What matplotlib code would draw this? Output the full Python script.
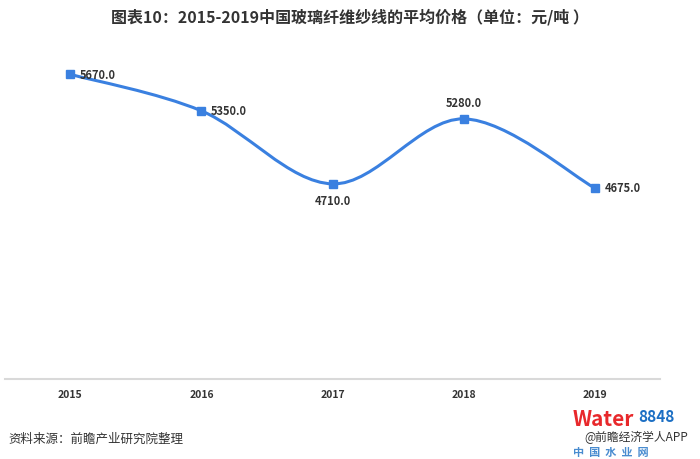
import matplotlib.pyplot as plt
from matplotlib.path import Path
from matplotlib.patches import PathPatch

plt.rcParams['font.family'] = ['Noto Sans CJK SC', 'DejaVu Sans']

# data
years = ['2015', '2016', '2017', '2018', '2019']
prices = [5670.0, 5350.0, 4710.0, 5280.0, 4675.0]
label_pos = ['right', 'right', 'below', 'above', 'right']

title = '图表10：2015-2019中国玻璃纤维纱线的平均价格（单位：元/吨 ）'
source = '资料来源：前瞻产业研究院整理'

blue = '#3a80e0'
text_col = '#333333'

fig = plt.figure(figsize=(7, 4.6), dpi=100)
ax = fig.add_axes([0.007, 0.174, 0.936, 0.744])

xs = list(range(len(years)))

# smoothed line like Excel (Catmull-Rom bezier)
verts = [(xs[0], prices[0])]
codes = [Path.MOVETO]
n = len(xs)
for i in range(n - 1):
    p0 = (xs[max(i - 1, 0)], prices[max(i - 1, 0)])
    p1 = (xs[i], prices[i])
    p2 = (xs[i + 1], prices[i + 1])
    p3 = (xs[min(i + 2, n - 1)], prices[min(i + 2, n - 1)])
    c1 = (p1[0] + (p2[0] - p0[0]) / 6, p1[1] + (p2[1] - p0[1]) / 6)
    c2 = (p2[0] - (p3[0] - p1[0]) / 6, p2[1] - (p3[1] - p1[1]) / 6)
    verts += [c1, c2, p2]
    codes += [Path.CURVE4] * 3
ax.add_patch(PathPatch(Path(verts, codes), facecolor='none', edgecolor=blue,
                       lw=2.2, capstyle='round', zorder=2))
ax.plot(xs, prices, ls='none', marker='s', ms=5.5, color=blue, zorder=3)

for x, y, pos in zip(xs, prices, label_pos):
    txt = f'{y:.1f}'
    if pos == 'right':
        ax.annotate(txt, (x, y), xytext=(7, 0), textcoords='offset points',
                    ha='left', va='center', fontsize=8, fontweight='bold', color=text_col)
    elif pos == 'below':
        ax.annotate(txt, (x, y), xytext=(0, -7), textcoords='offset points',
                    ha='center', va='top', fontsize=8, fontweight='bold', color=text_col)
    else:
        ax.annotate(txt, (x, y), xytext=(0, 7), textcoords='offset points',
                    ha='center', va='bottom', fontsize=8, fontweight='bold', color=text_col)

ax.set_xlim(-0.5, n - 0.5)
ax.set_ylim(3000, 6000)
ax.set_xticks(xs)
ax.set_xticklabels(years, fontsize=7.5, fontweight='bold', color=text_col)
ax.tick_params(axis='x', length=0, pad=7)
ax.set_yticks([])
for s in ['top', 'left', 'right']:
    ax.spines[s].set_visible(False)
ax.spines['bottom'].set_color('#d9d9d9')
ax.spines['bottom'].set_linewidth(1.5)

fig.text(0.5, 0.962, title, ha='center', va='center', fontsize=11.5,
         fontweight='bold', color=text_col)
fig.text(0.012, 0.044, source, ha='left', va='center', fontsize=9, color=text_col)

# watermark-style credit at bottom right
fig.text(0.818, 0.088, 'Water', ha='left', va='center', fontsize=15,
         fontweight='bold', color='#e8282b')
fig.text(0.912, 0.094, '8848', ha='left', va='center', fontsize=11,
         style='italic', fontweight='bold', color='#1c6fc4')
fig.text(0.835, 0.048, '@前瞻经济学人APP', ha='left', va='center', fontsize=8.5, color=text_col)
fig.text(0.818, 0.016, '中  国  水  业  网', ha='left', va='center', fontsize=8,
         fontweight='bold', color='#1c6fc4', alpha=0.8)

fig.savefig('out.png', dpi=100)
